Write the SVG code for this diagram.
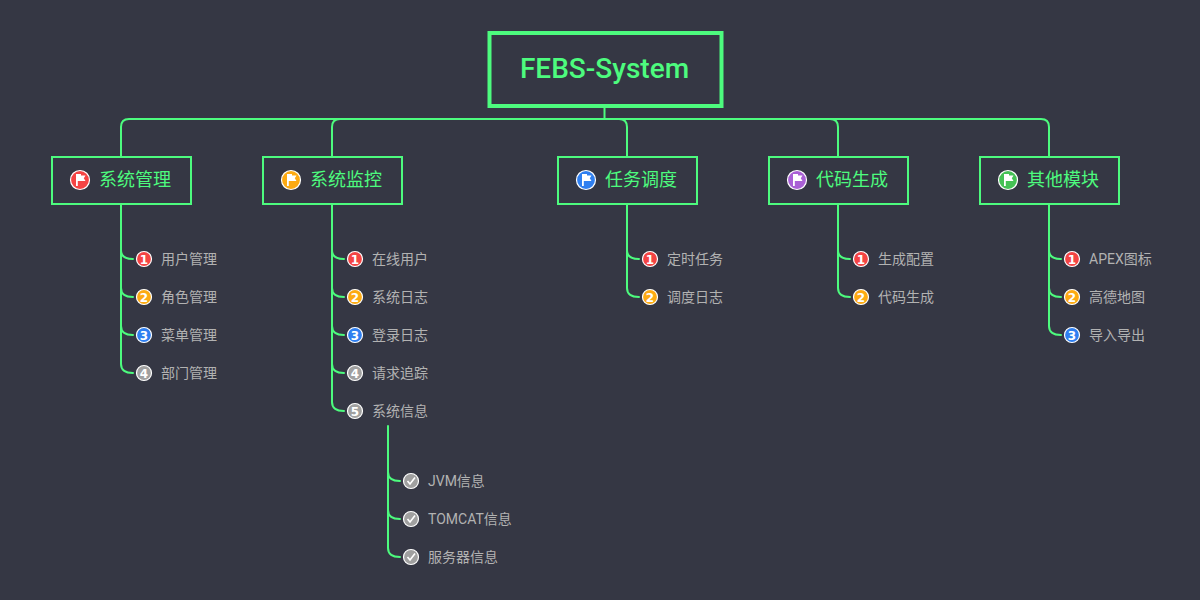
<svg xmlns="http://www.w3.org/2000/svg" width="1200" height="600" viewBox="0 0 1200 600">
<style>
.bg{fill:#353744}
.c{fill:none;stroke:#4dfb7e;stroke-width:2;stroke-linecap:round}
.root{fill:#353744;stroke:#4dfb7e;stroke-width:4}
.topic{fill:#353744;stroke:#4dfb7e;stroke-width:2}
.rt{font:500 28px Roboto,"Noto Sans CJK SC",sans-serif;fill:#4dfb7e;text-anchor:middle}
.tt{font:18px Roboto,"Noto Sans CJK SC",sans-serif;fill:#4dfb7e}
.st{font:14px Roboto,"Noto Sans CJK SC",sans-serif;fill:#b2b2b2}
.ring{stroke:#fff;stroke-width:1.2}
.n{font:bold 12px "DejaVu Sans",sans-serif;fill:#fff;text-anchor:middle}
.f{fill:#fff}
.red{fill:#f44444}.org{fill:#fdaa12}.blu{fill:#2f7ff0}.gry{fill:#a0a0a0}.pur{fill:#a960d5}.grn{fill:#45c155}
.ck{fill:none;stroke:#fff;stroke-width:1.6}
</style>
<defs>
<g id="flag"><path class="f" d="M-4.500-6H0.500V-4.500H5L3.300 -1.800L5 1H-2.700V6H-4.500Z"/></g>
<g id="check"><circle r="7.500" class="gry ring"/><path class="ck" d="M-3.500 0L-1 3L4-3.500"/></g>
</defs>
<rect class="bg" width="1200" height="600"/>
<g id="connectors">
<path class="c" d="M604.500 107V119"/>
<path class="c" d="M1049 157V127Q1049 119 1041 119H129Q121 119 121 127V157"/>
<path class="c" d="M332 157V127Q332 119 340 119"/>
<path class="c" d="M627 157V127Q627 119 619 119"/>
<path class="c" d="M838 157V127Q838 119 830 119"/>
<path class="c" d="M121 205V250Q121 259 133 259M121 250V288Q121 297 133 297M121 288V326Q121 335 133 335M121 326V364Q121 373 133 373"/>
<path class="c" d="M332 205V250Q332 259 344 259M332 250V288Q332 297 344 297M332 288V326Q332 335 344 335M332 326V364Q332 373 344 373M332 364V402Q332 411 344 411"/>
<path class="c" d="M627 205V250Q627 259 639 259M627 250V288Q627 297 639 297"/>
<path class="c" d="M838 205V250Q838 259 850 259M838 250V288Q838 297 850 297"/>
<path class="c" d="M1049 205V250Q1049 259 1061 259M1049 250V288Q1049 297 1061 297M1049 288V326Q1049 335 1061 335"/>
<path class="c" d="M388 426V472Q388 481 400 481M388 472V510Q388 519 400 519M388 510V548Q388 557 400 557"/>
</g>
<g id="root"><rect class="root" x="489.500" y="33" width="232" height="73"/><text class="rt" x="604.500" y="78">FEBS-System</text></g>
<g id="t1"><rect class="topic" x="52" y="157" width="139" height="47"/><circle class="red ring" cx="80" cy="180" r="9.500"/><use href="#flag" x="80.500" y="180"/><text class="tt" x="99" y="186">系统管理</text></g>
<g id="t2"><rect class="topic" x="263" y="157" width="139" height="47"/><circle class="org ring" cx="291" cy="180" r="9.500"/><use href="#flag" x="291.500" y="180"/><text class="tt" x="310" y="186">系统监控</text></g>
<g id="t3"><rect class="topic" x="558" y="157" width="139" height="47"/><circle class="blu ring" cx="586" cy="180" r="9.500"/><use href="#flag" x="586.500" y="180"/><text class="tt" x="605" y="186">任务调度</text></g>
<g id="t4"><rect class="topic" x="769" y="157" width="139" height="47"/><circle class="pur ring" cx="797" cy="180" r="9.500"/><use href="#flag" x="797.500" y="180"/><text class="tt" x="816" y="186">代码生成</text></g>
<g id="t5"><rect class="topic" x="980" y="157" width="139" height="47"/><circle class="grn ring" cx="1008" cy="180" r="9.500"/><use href="#flag" x="1008.500" y="180"/><text class="tt" x="1027" y="186">其他模块</text></g>

<g id="s11"><circle class="red ring" cx="144" cy="259" r="7.500"/><text class="n" x="144" y="263.500">1</text><text class="st" x="161" y="264">用户管理</text></g>
<g id="s12"><circle class="org ring" cx="144" cy="297" r="7.500"/><text class="n" x="144" y="301.500">2</text><text class="st" x="161" y="302">角色管理</text></g>
<g id="s13"><circle class="blu ring" cx="144" cy="335" r="7.500"/><text class="n" x="144" y="339.500">3</text><text class="st" x="161" y="340">菜单管理</text></g>
<g id="s14"><circle class="gry ring" cx="144" cy="373" r="7.500"/><text class="n" x="144" y="377.500">4</text><text class="st" x="161" y="378">部门管理</text></g>

<g id="s21"><circle class="red ring" cx="355" cy="259" r="7.500"/><text class="n" x="355" y="263.500">1</text><text class="st" x="372" y="264">在线用户</text></g>
<g id="s22"><circle class="org ring" cx="355" cy="297" r="7.500"/><text class="n" x="355" y="301.500">2</text><text class="st" x="372" y="302">系统日志</text></g>
<g id="s23"><circle class="blu ring" cx="355" cy="335" r="7.500"/><text class="n" x="355" y="339.500">3</text><text class="st" x="372" y="340">登录日志</text></g>
<g id="s24"><circle class="gry ring" cx="355" cy="373" r="7.500"/><text class="n" x="355" y="377.500">4</text><text class="st" x="372" y="378">请求追踪</text></g>
<g id="s25"><circle class="gry ring" cx="355" cy="411" r="7.500"/><text class="n" x="355" y="415.500">5</text><text class="st" x="372" y="416">系统信息</text></g>

<g id="s251"><use href="#check" x="411" y="481"/><text class="st" x="428" y="486">JVM信息</text></g>
<g id="s252"><use href="#check" x="411" y="519"/><text class="st" x="428" y="524">TOMCAT信息</text></g>
<g id="s253"><use href="#check" x="411" y="557"/><text class="st" x="428" y="562">服务器信息</text></g>

<g id="s31"><circle class="red ring" cx="650" cy="259" r="7.500"/><text class="n" x="650" y="263.500">1</text><text class="st" x="667" y="264">定时任务</text></g>
<g id="s32"><circle class="org ring" cx="650" cy="297" r="7.500"/><text class="n" x="650" y="301.500">2</text><text class="st" x="667" y="302">调度日志</text></g>

<g id="s41"><circle class="red ring" cx="861" cy="259" r="7.500"/><text class="n" x="861" y="263.500">1</text><text class="st" x="878" y="264">生成配置</text></g>
<g id="s42"><circle class="org ring" cx="861" cy="297" r="7.500"/><text class="n" x="861" y="301.500">2</text><text class="st" x="878" y="302">代码生成</text></g>

<g id="s51"><circle class="red ring" cx="1072" cy="259" r="7.500"/><text class="n" x="1072" y="263.500">1</text><text class="st" x="1089" y="264">APEX图标</text></g>
<g id="s52"><circle class="org ring" cx="1072" cy="297" r="7.500"/><text class="n" x="1072" y="301.500">2</text><text class="st" x="1089" y="302">高德地图</text></g>
<g id="s53"><circle class="blu ring" cx="1072" cy="335" r="7.500"/><text class="n" x="1072" y="339.500">3</text><text class="st" x="1089" y="340">导入导出</text></g>
</svg>
